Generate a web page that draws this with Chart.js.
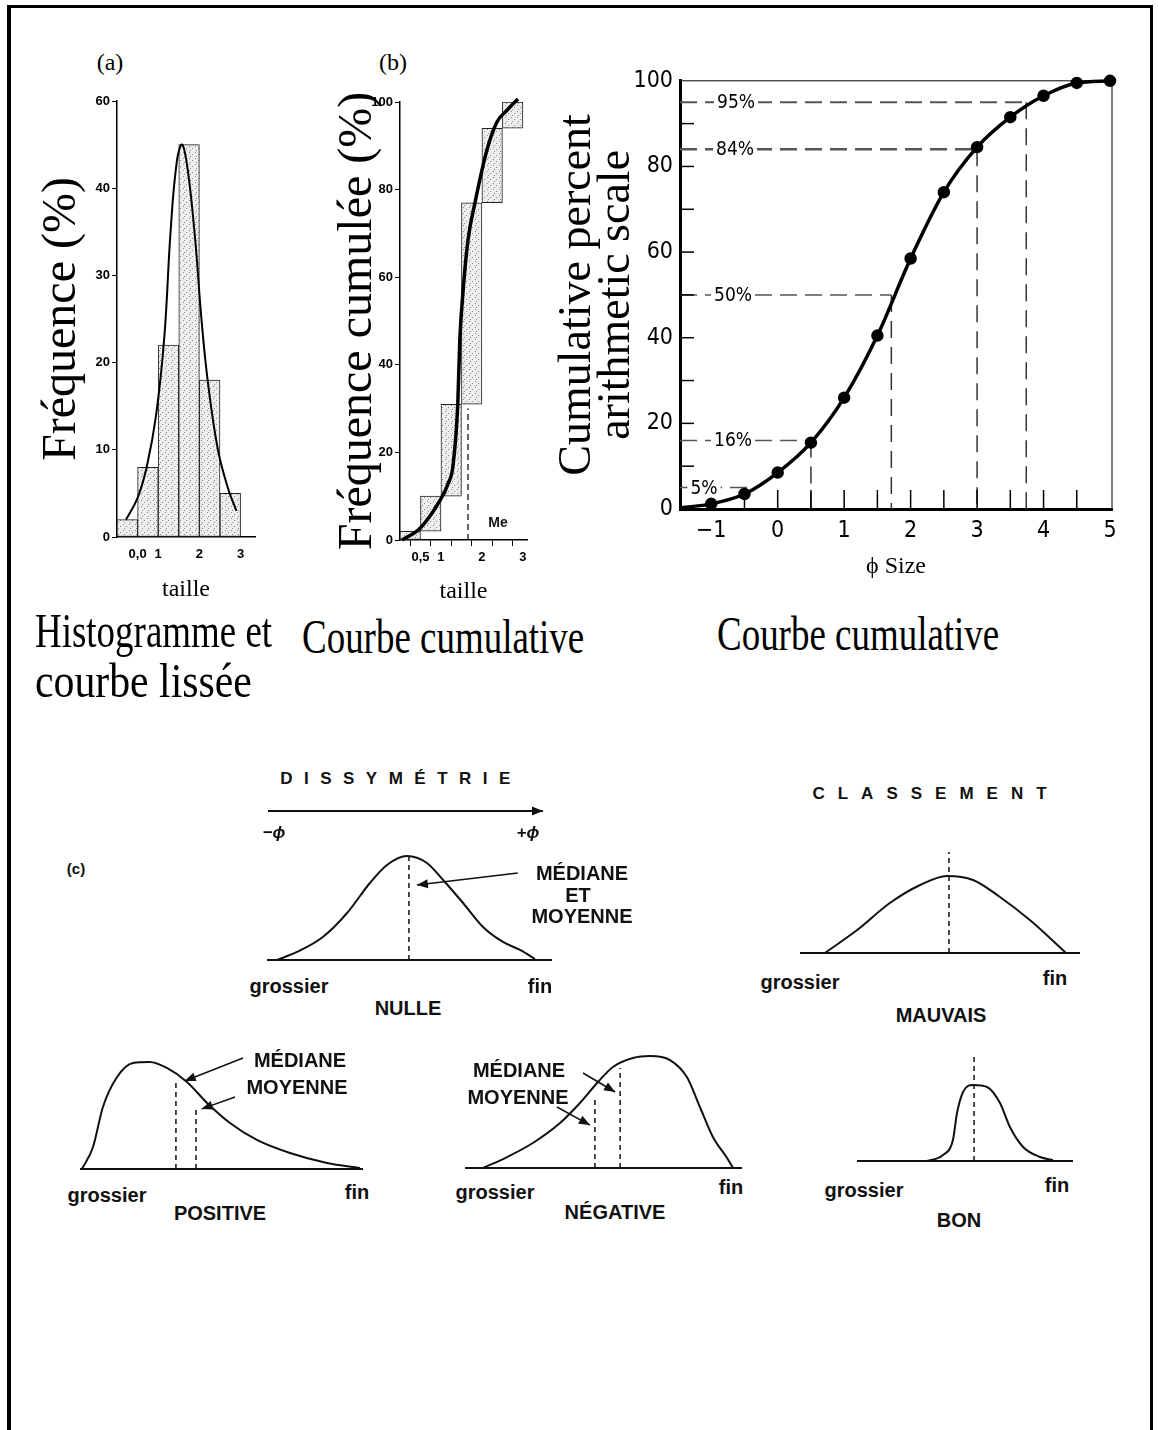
<!DOCTYPE html>
<html lang="fr">
<head>
<meta charset="utf-8">
<title>Granulométrie : histogramme, courbes cumulatives, dissymétrie et classement</title>
<script src="https://cdn.jsdelivr.net/npm/chart.js@4.4.1/dist/chart.umd.min.js"></script>
<style>
  html, body { margin: 0; padding: 0; background: #fff; }
  #page { position: relative; width: 1158px; height: 1430px; overflow: hidden; background: #fff; }
  #cadre { position: absolute; left: 7px; top: 5px; width: 1139px; height: 1440px; border: solid #000; border-width: 3px 3px 0 4px; }
  canvas { position: absolute; }
  .txt { position: absolute; white-space: nowrap; color: #000; line-height: 1; transform: translate(-50%, -50%); }
  .serif { font-family: 'Liberation Serif', 'Times New Roman', serif; }
  .legende { font-size: 48px; transform: scaleX(0.77); transform-origin: 0 0; }
  .sans { font-family: 'Liberation Sans', Arial, sans-serif; font-weight: bold; font-size: 20px; color: #111; }
</style>
</head>
<body>
<div id="page"><div id="cadre"></div></div>
<script>
// ---- (a) histogramme et courbe lissée
const classesA = [0.25, 0.75, 1.25, 1.75, 2.25, 2.75];
const frequencesA = [2, 8, 22, 45, 18, 5];
const lisseeX = [0.22, 0.5, 0.72, 0.95, 1.15, 1.3, 1.45, 1.58, 1.72, 1.9, 2.05, 2.2, 2.45, 2.7, 2.9];
const lisseeY = [2, 4.5, 8, 14, 23, 35, 43, 45, 42, 34, 25, 18, 10, 5.5, 3];
const ticksYA = [0, 10, 20, 30, 40, 50];
const labelsYA = ['0', '10', '20', '30', '40', '60'];
const ticksXA = [0.5, 1, 2, 3];
const labelsXA = ['0,0', '1', '2', '3'];

// ---- (b) courbe cumulative en escalier
const classesB = [0.25, 0.75, 1.25, 1.75, 2.25, 2.75];
const cumulBas = [0, 2, 10, 31, 77, 94];
const cumulHaut = [2, 10, 31, 77, 94, 100];
const courbeBX = [0.05, 0.49, 0.98, 1.18, 1.29, 1.41, 1.46, 1.55, 1.66, 1.83, 2.12, 2.37, 2.6, 2.88];
const courbeBY = [0, 2.7, 9.1, 13, 16.7, 31, 45.7, 58, 68.5, 77, 89, 95.5, 98, 100.7];
const medianeB = 1.66;
const medianeHautB = 30;
const ticksXB = [0, 0.5, 1, 1.5, 2, 2.5, 3];
const labelsXB = ['', '0,5', '1', '', '2', '', '3'];
const ticksYB = [0, 20, 40, 60, 80, 100];

// ---- (c) courbe cumulative, échelle arithmétique
const phiC = [-1.45, -1, -0.5, 0, 0.5, 1, 1.5, 2, 2.5, 3, 3.5, 4, 4.5, 5];
const cumulC = [0.3, 1.2, 3.5, 8.5, 15.5, 26, 40.5, 58.5, 74, 84.5, 91.5, 96.5, 99.5, 100];
const niveaux = [5, 16, 50, 84, 95];
const phiNiveaux = [-0.35, 0.5, 1.71, 3.0, 3.74];
const etiquettesNiveaux = ['5%', '16%', '50%', '84%', '95%'];
const verticales = [false, true, true, true, true];
const ticksXC = [-1, 0, 1, 2, 3, 4, 5];
const labelsXC = ['\u22121', '0', '1', '2', '3', '4', '5'];
const ticksYC = [0, 20, 40, 60, 80, 100];
const graduationsY = [10, 20, 30, 40, 50, 60, 70, 80, 90];
const graduationsX = [-1, -0.5, 0, 0.5, 1, 1.5, 2, 2.5, 3, 3.5, 4, 4.5];

// ---- formes des distributions (x : grossier -> fin, y : fréquence relative)
const nulleX = [3.5, 10.5, 19.6, 28.1, 36.1, 42.1, 49.1, 56.1, 61.8, 68.8, 75.8, 82.8, 88.8, 94];
const nulleY = [0, 7.3, 20.9, 42.7, 70, 86.4, 94.5, 88.2, 72.7, 51.8, 30, 16.4, 9.1, 0.9];
const nulleTraits = [[49.8, 94]];
const nulleFleches = [[88, 79, 52.6, 68.2]];

const mauvaisX = [8.9, 20.4, 32.1, 42.9, 52.5, 61.8, 71.4, 82.1, 95];
const mauvaisY = [0, 22.3, 48.5, 66, 74.8, 70.9, 54.4, 32, 0];
const mauvaisTraits = [[53.2, 98]];

const positiveX = [0.7, 4.6, 8.1, 13.1, 18.7, 24.7, 30.7, 37.8, 44.9, 53, 62.5, 74.2, 87.3, 98.9];
const positiveY = [0, 18.5, 52.1, 77.3, 89.1, 89.9, 84.9, 73.1, 55.5, 38.7, 24.4, 13.4, 5, 0.8];
const positiveTraits = [[33.9, 75], [41, 50]];
const positiveFleches = [[57.6, 93.3, 37, 74], [54.8, 60.5, 43, 50.5]];

const negativeX = [6.5, 15.2, 24.5, 34.3, 41.5, 47.7, 53.4, 60.6, 66.8, 74, 80.1, 84.8, 89.5, 94.6, 96.8];
const negativeY = [0, 9.3, 21.2, 38.1, 55.1, 72, 85.6, 93.2, 94.9, 91.5, 77.1, 51.7, 26.3, 8.5, 0];
const negativeTraits = [[46.9, 60.2], [56, 84.7]];
const negativeFleches = [[42.6, 80.5, 54.2, 64.4], [33.2, 51.7, 45.1, 36.4]];

const bonX = [32.4, 39.8, 44.4, 46.3, 49.1, 53.7, 60.2, 66.2, 70.8, 76.9, 84.7, 90.7];
const bonY = [0, 5.4, 18.9, 43.2, 62.2, 68.5, 66.7, 52.3, 30.6, 12.6, 3.6, 0.9];
const bonTraits = [[54.2, 93.7]];

// ---- mise en page
const serif = "'Liberation Serif', 'Times New Roman', serif";
const sans = "'Liberation Sans', Arial, sans-serif";
const etroit = "'Liberation Sans Narrow', 'DejaVu Sans Condensed', 'Arial Narrow', sans-serif";
const page = document.getElementById('page');

function toile(id, left, top, w, h) {
    const c = document.createElement('canvas');
    c.id = id;
    c.width = w;
    c.height = h;
    c.style.left = left + 'px';
    c.style.top = top + 'px';
    c.style.width = w + 'px';
    c.style.height = h + 'px';
    page.appendChild(c);
    return c;
}

function texte(contenu, x, y, classe, style) {
    const d = document.createElement('div');
    d.className = 'txt ' + classe;
    d.textContent = contenu;
    d.style.left = x + 'px';
    d.style.top = y + 'px';
    if (style) Object.assign(d.style, style);
    page.appendChild(d);
}

function motifPointille() {
    const c = document.createElement('canvas');
    c.width = 6;
    c.height = 6;
    const g = c.getContext('2d');
    g.fillStyle = '#ededed';
    g.fillRect(0, 0, 6, 6);
    g.fillStyle = '#8c8c8c';
    g.fillRect(1, 1, 1, 1);
    g.fillRect(4, 3, 1, 1);
    g.fillRect(2, 5, 1, 1);
    return g.createPattern(c, 'repeat');
}
const motif = motifPointille();

function base(padding) {
    return {
        responsive: false,
        animation: false,
        layout: { padding },
        plugins: { legend: { display: false }, tooltip: { enabled: false } },
        elements: { point: { radius: 0 } }
    };
}

const paires = (xs, ys) => xs.map((x, i) => ({ x, y: ys[i] }));

const flechesPlugin = {
    id: 'fleches',
    afterDatasetsDraw(chart) {
        const ctx = chart.ctx;
        chart.data.datasets.forEach((ds, i) => {
            if (!ds.fleche) return;
            const pts = chart.getDatasetMeta(i).data;
            const a = pts[pts.length - 2], b = pts[pts.length - 1];
            const ang = Math.atan2(b.y - a.y, b.x - a.x);
            ctx.save();
            ctx.translate(b.x, b.y);
            ctx.rotate(ang);
            ctx.fillStyle = '#111';
            ctx.beginPath();
            ctx.moveTo(0, 0);
            ctx.lineTo(-11, -4.5);
            ctx.lineTo(-11, 4.5);
            ctx.closePath();
            ctx.fill();
            ctx.restore();
        });
    }
};

// ---- (a)
new Chart(toile('grA', 20, 85, 250, 522), {
    type: 'bar',
    data: {
        datasets: [
            { type: 'line', data: paires(lisseeX, lisseeY), borderColor: '#000', borderWidth: 2, tension: 0.4, order: 0, clip: false },
            { type: 'bar', data: paires(classesA, frequencesA), backgroundColor: motif, borderColor: '#222', borderWidth: 1,
              borderSkipped: false, barPercentage: 1, categoryPercentage: 1, order: 1 }
        ]
    },
    options: {
        ...base({ top: 16, right: 15, left: 0, bottom: 0 }),
        scales: {
            x: {
                type: 'linear', min: 0, max: 3.35, offset: false,
                grid: { display: false, drawTicks: false },
                border: { color: '#000', width: 1.5 },
                afterFit: s => { s.height = 70; },
                afterBuildTicks: s => { s.ticks = ticksXA.map(v => ({ value: v })); },
                ticks: { padding: 10, autoSkip: false, maxRotation: 0, color: '#000',
                         font: { family: sans, weight: 'bold', size: 13 }, callback: (v, i) => labelsXA[i] },
                title: { display: true, text: 'taille', color: '#000', font: { family: serif, size: 24, lineHeight: 1 }, padding: { top: 0, bottom: 5 } }
            },
            y: {
                min: 0, max: 50,
                grid: { drawOnChartArea: false, drawTicks: true, tickLength: 5, color: '#000' },
                border: { color: '#000', width: 1.5 },
                afterFit: s => { s.width = 97; },
                afterBuildTicks: s => { s.ticks = ticksYA.map(v => ({ value: v })); },
                ticks: { padding: 2, color: '#000', font: { family: sans, weight: 'bold', size: 13 }, callback: (v, i) => labelsYA[i] },
                title: { display: true, text: 'Fréquence (%)', color: '#000', font: { family: serif, size: 48, lineHeight: 1 }, padding: { top: 18, bottom: 0 } }
            }
        }
    }
});

// ---- (b)
new Chart(toile('grB', 300, 86, 232, 524), {
    type: 'bar',
    data: {
        datasets: [
            { type: 'line', data: paires(courbeBX, courbeBY), borderColor: '#000', borderWidth: 3.5, cubicInterpolationMode: 'monotone', order: 0, clip: false },
            { type: 'line', data: [{ x: medianeB, y: 0 }, { x: medianeB, y: medianeHautB }], borderColor: '#000', borderWidth: 1.2, borderDash: [6, 4], order: 1 },
            { type: 'bar', data: classesB.map((x, i) => ({ x, y: [cumulBas[i], cumulHaut[i]] })), backgroundColor: motif, borderColor: '#222',
              borderWidth: 1, borderSkipped: false, barPercentage: 1, categoryPercentage: 1, order: 2 }
        ]
    },
    options: {
        ...base({ top: 16, right: 5, left: 0, bottom: 0 }),
        scales: {
            x: {
                type: 'linear', min: 0, max: 3.1, offset: false,
                grid: { display: true, drawOnChartArea: false, drawTicks: true, tickLength: 6, color: '#000' },
                border: { color: '#000', width: 1.5 },
                afterFit: s => { s.height = 70; },
                afterBuildTicks: s => { s.ticks = ticksXB.map(v => ({ value: v })); },
                ticks: { padding: 4, autoSkip: false, maxRotation: 0, color: '#000',
                         font: { family: sans, weight: 'bold', size: 13 }, callback: (v, i) => labelsXB[i] },
                title: { display: true, text: 'taille', color: '#000', font: { family: serif, size: 24, lineHeight: 1 }, padding: { top: 0, bottom: 6 } }
            },
            y: {
                min: 0, max: 100,
                grid: { drawOnChartArea: false, drawTicks: true, tickLength: 5, color: '#000' },
                border: { color: '#000', width: 1.5 },
                afterFit: s => { s.width = 100; },
                afterBuildTicks: s => { s.ticks = ticksYB.map(v => ({ value: v })); },
                ticks: { padding: 2, color: '#000', font: { family: sans, weight: 'bold', size: 13 } },
                title: { display: true, text: 'Fréquence cumulée (%)', color: '#000', font: { family: serif, size: 48, lineHeight: 1 }, padding: { top: 34, bottom: 0 } }
            }
        }
    }
});

// ---- (c)
const xMinC = -1.47;
const epaisseurs = [1.5, 1.5, 1.5, 2.5, 2];
const decalages = [24, 53, 53, 55, 56];

const habillageC = {
    id: 'habillageC',
    afterDatasetsDraw(chart) {
        const { ctx, chartArea: ca, scales: { x, y } } = chart;
        ctx.save();
        ctx.strokeStyle = '#000';
        ctx.lineWidth = 1;
        ctx.beginPath();
        ctx.moveTo(ca.left, ca.top);
        ctx.lineTo(ca.right, ca.top);
        ctx.lineTo(ca.right, ca.bottom);
        ctx.stroke();
        ctx.lineWidth = 1.5;
        graduationsY.forEach(v => {
            const py = y.getPixelForValue(v);
            ctx.beginPath();
            ctx.moveTo(ca.left, py);
            ctx.lineTo(ca.left + 14, py);
            ctx.stroke();
        });
        graduationsX.forEach(v => {
            const px = x.getPixelForValue(v);
            ctx.beginPath();
            ctx.moveTo(px, ca.bottom);
            ctx.lineTo(px, ca.bottom - 19);
            ctx.stroke();
        });
        ctx.font = '19px ' + etroit;
        ctx.textAlign = 'center';
        ctx.textBaseline = 'middle';
        niveaux.forEach((p, i) => {
            const py = y.getPixelForValue(p);
            const cx = ca.left + decalages[i];
            const w = ctx.measureText(etiquettesNiveaux[i]).width + 6;
            ctx.fillStyle = '#fff';
            ctx.fillRect(cx - w / 2, py - 10, w, 20);
            ctx.fillStyle = '#000';
            ctx.fillText(etiquettesNiveaux[i], cx, py + 1);
        });
        ctx.restore();
    }
};

const datasetsC = [{
    data: paires(phiC, cumulC), borderColor: '#000', borderWidth: 3.5, cubicInterpolationMode: 'monotone',
    pointRadius: c => (c.dataIndex === 0 ? 0 : 4.5), pointBackgroundColor: '#000', pointBorderColor: '#000', clip: false
}];
niveaux.forEach((p, i) => {
    datasetsC.push({ data: [{ x: xMinC, y: p }, { x: phiNiveaux[i], y: p }], borderColor: '#555', borderWidth: epaisseurs[i], borderDash: [17, 8] });
    if (verticales[i]) {
        datasetsC.push({ data: [{ x: phiNiveaux[i], y: p }, { x: phiNiveaux[i], y: 0 }], borderColor: '#333', borderWidth: 1.5, borderDash: [17, 9] });
    }
});

new Chart(toile('grC', 540, 60, 590, 524), {
    type: 'line',
    data: { datasets: datasetsC },
    options: {
        ...base({ top: 17, right: 18, left: 0, bottom: 0 }),
        scales: {
            x: {
                type: 'linear', min: xMinC, max: 5.03,
                grid: { display: false, drawTicks: false },
                border: { color: '#000', width: 3 },
                afterFit: s => { s.height = 75; },
                afterBuildTicks: s => { s.ticks = ticksXC.map(v => ({ value: v })); },
                ticks: { padding: 8, autoSkip: false, maxRotation: 0, color: '#000', font: { family: etroit, size: 23 }, callback: (v, i) => labelsXC[i] },
                title: { display: true, text: '\u03d5 Size', color: '#000', font: { family: serif, size: 24, lineHeight: 1 }, padding: { top: 0, bottom: 5 } }
            },
            y: {
                min: 0, max: 100,
                grid: { display: false, drawTicks: false },
                border: { color: '#000', width: 3 },
                afterFit: s => { s.width = 140; },
                afterBuildTicks: s => { s.ticks = ticksYC.map(v => ({ value: v })); },
                ticks: { padding: 7, color: '#000', font: { family: etroit, size: 23 } },
                title: { display: true, text: ['Cumulative percent', 'arithmetic scale'], color: '#000',
                         font: { family: serif, size: 46, lineHeight: 0.85 }, padding: { top: 18.5, bottom: 0 } }
            }
        }
    },
    plugins: [habillageC]
});

// ---- formes des distributions
function petite(id, b, xs, ys, traits, fleches) {
    const pad = 8;
    const ds = [
        { data: paires(xs, ys), borderColor: '#111', borderWidth: 2, cubicInterpolationMode: 'monotone' },
        { data: [{ x: 0, y: 0 }, { x: 100, y: 0 }], borderColor: '#111', borderWidth: 1.8 }
    ];
    traits.forEach(([x, h]) => ds.push({ data: [{ x, y: 0 }, { x, y: h }], borderColor: '#111', borderWidth: 1.5, borderDash: [5, 4] }));
    fleches.forEach(f => ds.push({ data: [{ x: f[0], y: f[1] }, { x: f[2], y: f[3] }], borderColor: '#111', borderWidth: 1.5, fleche: true }));
    ds.forEach(d => { d.clip = false; });
    new Chart(toile(id, b.left - pad, b.top - pad, b.width + 2 * pad, b.height + 2 * pad), {
        type: 'line',
        data: { datasets: ds },
        options: {
            ...base(pad),
            scales: {
                x: { type: 'linear', min: 0, max: 100, display: false },
                y: { min: 0, max: 100, display: false }
            }
        },
        plugins: [flechesPlugin]
    });
}

const boites = {
    nulle: { left: 267, top: 850, width: 285, height: 110 },
    mauvais: { left: 800, top: 850, width: 280, height: 103 },
    positive: { left: 80, top: 1050, width: 283, height: 119 },
    negative: { left: 465, top: 1050, width: 277, height: 118 },
    bon: { left: 857, top: 1050, width: 216, height: 111 }
};

petite('nulle', boites.nulle, nulleX, nulleY, nulleTraits, nulleFleches);
petite('mauvais', boites.mauvais, mauvaisX, mauvaisY, mauvaisTraits, []);
petite('positive', boites.positive, positiveX, positiveY, positiveTraits, positiveFleches);
petite('negative', boites.negative, negativeX, negativeY, negativeTraits, negativeFleches);
petite('bon', boites.bon, bonX, bonY, bonTraits, []);

// flèche de l'axe des phi (dissymétrie)
new Chart(toile('axePhi', 260, 798, 291, 26), {
    type: 'line',
    data: { datasets: [{ data: [{ x: 0, y: 50 }, { x: 100, y: 50 }], borderColor: '#111', borderWidth: 1.8, fleche: true, clip: false }] },
    options: { ...base(8), scales: { x: { type: 'linear', min: 0, max: 100, display: false }, y: { min: 0, max: 100, display: false } } },
    plugins: [flechesPlugin]
});

// ---- textes
texte('(a)', 110, 62, 'serif', { fontSize: '24px' });
texte('(b)', 393, 62, 'serif', { fontSize: '24px' });
texte('Me', 498, 522, 'sans', { fontSize: '14px' });

texte('Histogramme et', 35, 607, 'serif legende');
texte('courbe lissée', 35, 657, 'serif legende', { transform: 'scaleX(0.87)' });
texte('Courbe cumulative', 302, 613, 'serif legende');
texte('Courbe cumulative', 717, 610, 'serif legende');

texte('(c)', 76, 868, 'sans', { fontSize: '15px' });
texte('DISSYMÉTRIE', 401, 778, 'sans', { fontSize: '17px', letterSpacing: '11.5px' });
texte('\u2212\u03d5', 274, 832, 'sans', { fontSize: '17px', fontStyle: 'italic' });
texte('+\u03d5', 528, 832, 'sans', { fontSize: '17px', fontStyle: 'italic' });
texte('CLASSEMENT', 936, 793, 'sans', { fontSize: '17px', letterSpacing: '13px' });

texte('MÉDIANE', 582, 873, 'sans');
texte('ET', 578, 895, 'sans');
texte('MOYENNE', 582, 916, 'sans');
texte('grossier', 289, 986, 'sans');
texte('fin', 540, 986, 'sans');
texte('NULLE', 408, 1008, 'sans');

texte('grossier', 800, 982, 'sans');
texte('fin', 1055, 978, 'sans');
texte('MAUVAIS', 941, 1015, 'sans');

texte('MÉDIANE', 300, 1060, 'sans');
texte('MOYENNE', 297, 1087, 'sans');
texte('grossier', 107, 1195, 'sans');
texte('fin', 357, 1192, 'sans');
texte('POSITIVE', 220, 1213, 'sans');

texte('MÉDIANE', 519, 1070, 'sans');
texte('MOYENNE', 518, 1097, 'sans');
texte('grossier', 495, 1192, 'sans');
texte('fin', 731, 1187, 'sans');
texte('NÉGATIVE', 615, 1212, 'sans');

texte('grossier', 864, 1190, 'sans');
texte('fin', 1057, 1185, 'sans');
texte('BON', 959, 1220, 'sans');
</script>
</body>
</html>
